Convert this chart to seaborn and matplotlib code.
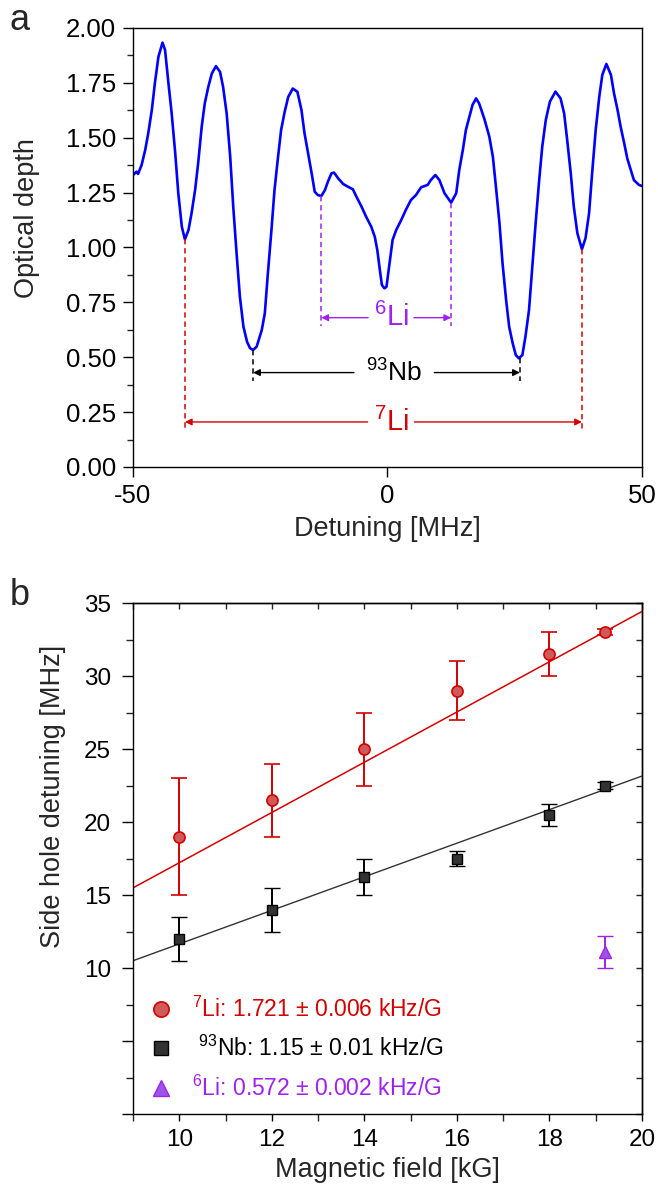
import numpy as np
import matplotlib
matplotlib.use("Agg")
import matplotlib.pyplot as plt
import seaborn as sns
from matplotlib.lines import Line2D
from matplotlib.ticker import MultipleLocator, NullFormatter

# ---------------- data: panel a ----------------
detuning_mhz = [-50.0, -49.3, -49.0, -48.3, -47.6, -47.0, -46.3, -45.7, -45.0, -44.2,
                -43.7, -43.1, -42.4, -41.7, -41.1, -40.4, -39.8, -39.1, -38.5, -37.8,
                -37.2, -36.5, -35.9, -35.2, -34.5, -33.7, -32.9, -32.3, -31.6, -30.9,
                -30.3, -29.6, -29.0, -28.3, -27.6, -27.0, -26.4, -25.7, -24.7, -24.1,
                -23.5, -22.8, -22.2, -21.5, -20.9, -20.2, -19.5, -18.6, -17.7, -16.9,
                -16.3, -15.6, -14.9, -14.3, -13.7, -13.0, -12.3, -11.7, -11.0, -10.5,
                -9.7, -8.7, -7.8, -6.8, -6.1, -5.1, -4.2, -3.2, -2.5, -2.0,
                -1.5, -1.1, -0.6, -0.2, 0.4, 1.0, 1.7, 2.7, 3.6, 4.6,
                5.6, 6.6, 7.9, 8.5, 9.4, 10.2, 11.2, 12.5, 13.5, 14.1,
                14.8, 15.4, 16.1, 16.7, 17.4, 18.0, 19.0, 20.0, 20.7, 21.3,
                22.0, 22.6, 23.3, 23.9, 24.6, 25.2, 25.8, 26.5, 27.1, 27.8,
                28.4, 29.1, 29.8, 30.4, 31.1, 31.9, 33.0, 34.0, 34.7, 35.3,
                36.0, 36.6, 37.3, 38.2, 38.9, 39.6, 40.2, 40.9, 41.6, 42.2,
                43.0, 43.9, 44.5, 45.2, 45.8, 46.5, 47.1, 47.8, 48.4, 49.4, 50.0]
optical_depth = [1.330, 1.345, 1.335, 1.376, 1.444, 1.520, 1.626, 1.748, 1.869, 1.933,
                 1.900, 1.763, 1.611, 1.429, 1.247, 1.094, 1.037, 1.079, 1.155, 1.261,
                 1.383, 1.550, 1.656, 1.732, 1.793, 1.826, 1.800, 1.732, 1.611, 1.413,
                 1.185, 0.958, 0.776, 0.639, 0.571, 0.541, 0.533, 0.548, 0.624, 0.700,
                 0.882, 1.079, 1.261, 1.413, 1.535, 1.618, 1.686, 1.724, 1.709, 1.626,
                 1.520, 1.429, 1.338, 1.254, 1.239, 1.234, 1.261, 1.300, 1.338, 1.341,
                 1.315, 1.289, 1.277, 1.265, 1.231, 1.186, 1.140, 1.095, 1.049, 0.988,
                 0.897, 0.829, 0.814, 0.821, 0.928, 1.034, 1.079, 1.125, 1.171, 1.216,
                 1.239, 1.274, 1.285, 1.307, 1.330, 1.307, 1.247, 1.204, 1.247, 1.353,
                 1.444, 1.535, 1.596, 1.649, 1.679, 1.656, 1.588, 1.505, 1.413, 1.277,
                 1.110, 0.928, 0.761, 0.639, 0.563, 0.510, 0.495, 0.510, 0.594, 0.715,
                 0.897, 1.110, 1.307, 1.459, 1.581, 1.664, 1.710, 1.679, 1.611, 1.490,
                 1.338, 1.186, 1.065, 0.992, 1.042, 1.156, 1.338, 1.535, 1.686, 1.786,
                 1.836, 1.786, 1.702, 1.626, 1.550, 1.475, 1.406, 1.353, 1.307, 1.285, 1.280]

hole_labels = [r"$^{7}$Li", r"$^{93}$Nb", r"$^{6}$Li"]
hole_left = [-39.8, -26.4, -13.0]
hole_right = [38.2, 26.0, 12.5]
hole_left_od = [1.037, 0.533, 1.234]
hole_right_od = [0.992, 0.495, 1.204]
dash_bottom = [0.17, 0.39, 0.64]
arrow_level = [0.205, 0.43, 0.68]
label_center = [0.7, 1.3, 0.7]

# ---------------- data: panel b ----------------
field_kG = [10, 12, 14, 16, 18, 19.2]
li7_mhz = [19.0, 21.5, 25.0, 29.0, 31.5, 33.0]
li7_err = [4.0, 2.5, 2.5, 2.0, 1.5, 0.2]
nb_mhz = [12.0, 14.0, 16.25, 17.5, 20.5, 22.5]
nb_err = [1.5, 1.5, 1.25, 0.5, 0.75, 0.25]
li6_field = [19.2]
li6_mhz = [11.1]
li6_err = [1.1]
fit_field = [9, 20]
li7_slope, li7_icpt = 1.721, 0.0
nb_slope, nb_icpt = 1.15, 0.15
legend_labels = [r"$^{7}$Li: 1.721 ± 0.006 kHz/G",
                 r" $^{93}$Nb: 1.15 ± 0.01 kHz/G",
                 r"$^{6}$Li: 0.572 ± 0.002 kHz/G"]

# ---------------- style ----------------
sns.set_theme(style="ticks")
plt.rcParams["font.family"] = ["Liberation Sans", "DejaVu Sans"]
plt.rcParams["mathtext.default"] = "regular"
plt.rcParams["axes.linewidth"] = 1.0
plt.rcParams["axes.edgecolor"] = "black"

BLUE = "#0000ff"
RED = "#d40000"
PURPLE = "#a020f0"
BLACK = "#000000"
hole_colors = [RED, BLACK, PURPLE]
label_sizes = [21, 19, 21]
label_halfgap = [4.6, 7.9, 4.5]

fig = plt.figure(figsize=(6.58, 11.84), dpi=100)
ax1 = fig.add_axes([0.2021, 0.6056, 0.7736, 0.3708])
ax2 = fig.add_axes([0.2021, 0.0591, 0.7736, 0.4316])

# ---------------- panel a ----------------
sns.lineplot(x=detuning_mhz, y=optical_depth, ax=ax1, color=BLUE, lw=1.9, sort=False)
for lab, xl, xr, yl, yr, yb, ya, xc, col, fs, hg in zip(
        hole_labels, hole_left, hole_right, hole_left_od, hole_right_od,
        dash_bottom, arrow_level, label_center, hole_colors, label_sizes, label_halfgap):
    ax1.plot([xl, xl], [yl, yb], ls=(0, (3.5, 2.5)), color=col, lw=1.1)
    ax1.plot([xr, xr], [yr, yb], ls=(0, (3.5, 2.5)), color=col, lw=1.1)
    for xend, xstart in ((xl, xc - hg), (xr, xc + hg)):
        ax1.annotate("", xy=(xend, ya), xytext=(xstart, ya),
                     arrowprops=dict(arrowstyle="-|>", color=col, lw=1.0,
                                     mutation_scale=10, shrinkA=0, shrinkB=0))
    ax1.text(xc, ya, lab, color=col, fontsize=fs, ha="center", va="center")

ax1.set_xlim(-50, 50)
ax1.set_ylim(0, 2.0)
ax1.set_xticks([-50, 0, 50])
ax1.set_xticklabels(["-50", "0", "50"])
ax1.yaxis.set_major_locator(MultipleLocator(0.25))
ax1.yaxis.set_minor_locator(MultipleLocator(0.125))
ax1.set_yticklabels([f"{v:.2f}" for v in ax1.get_yticks()])
ax1.tick_params(axis="both", which="major", direction="out", length=7, width=1.0,
                labelsize=18.5, pad=5, colors="black")
ax1.tick_params(axis="y", which="minor", direction="out", length=4, width=1.0)
ax1.set_xlabel("Detuning [MHz]", fontsize=19.5, labelpad=6)
ax1.set_ylabel("Optical depth", fontsize=19.5)
ax1.yaxis.set_label_coords(-0.183, 0.567)
for s in ax1.spines.values():
    s.set_visible(True)
    s.set_color("black")

# ---------------- panel b ----------------
fit_x = np.array(fit_field, dtype=float)
sns.lineplot(x=fit_x, y=li7_slope * fit_x + li7_icpt, ax=ax2, color=RED, lw=1.1)
sns.lineplot(x=fit_x, y=nb_slope * fit_x + nb_icpt, ax=ax2, color="#333333", lw=1.0)

ax2.errorbar(field_kG, li7_mhz, yerr=li7_err, fmt="o", ms=8, mfc="#d05a5a", mec=RED,
             mew=1.2, ecolor=RED, elinewidth=1.4, capsize=5.5, capthick=1.4, zorder=3)
ax2.errorbar(field_kG, nb_mhz, yerr=nb_err, fmt="s", ms=7, mfc="#333333", mec=BLACK,
             mew=1.0, ecolor=BLACK, elinewidth=1.4, capsize=5.5, capthick=1.4, zorder=3)
ax2.errorbar(li6_field, li6_mhz, yerr=li6_err, fmt="^", ms=8.5, mfc="#9a55e6", mec=PURPLE,
             mew=1.0, ecolor=PURPLE, elinewidth=1.4, capsize=5.5, capthick=1.4, zorder=3)

ax2.set_xlim(9, 20)
ax2.set_ylim(0, 35)
ax2.xaxis.set_major_locator(MultipleLocator(2))
ax2.xaxis.set_minor_locator(MultipleLocator(1))
yt = np.arange(0, 35.1, 5)
ax2.set_yticks(yt)
ax2.set_yticklabels([f"{int(v)}" if v >= 10 else "" for v in yt])
ax2.yaxis.set_minor_locator(MultipleLocator(2.5))
ax2.tick_params(axis="both", which="major", direction="out", width=1.0, labelsize=17.5, colors="black")
ax2.tick_params(axis="y", which="major", length=8, pad=8)
ax2.tick_params(axis="y", which="minor", direction="out", length=5, width=1.0)
ax2.tick_params(axis="x", which="major", length=5, pad=6)
ax2.tick_params(axis="x", which="minor", direction="out", length=5, width=1.0)
ax2.set_xlabel("Magnetic field [kG]", fontsize=19.5, labelpad=4)
ax2.set_ylabel("Side hole detuning [MHz]", fontsize=19.5)
ax2.yaxis.set_label_coords(-0.132, 0.622)
for s in ax2.spines.values():
    s.set_visible(True)
    s.set_color("black")

sec_r = ax2.secondary_yaxis("right")
sec_r.yaxis.set_major_locator(MultipleLocator(2.5))
sec_r.yaxis.set_major_formatter(NullFormatter())
sec_r.tick_params(direction="in", length=4, width=1.0)
sec_t = ax2.secondary_xaxis("top")
sec_t.xaxis.set_major_locator(MultipleLocator(1))
sec_t.xaxis.set_major_formatter(NullFormatter())
sec_t.tick_params(direction="in", length=4, width=1.0)

handles = [
    Line2D([], [], ls="none", marker="o", ms=11, mfc="#d05a5a", mec=RED, mew=1.2),
    Line2D([], [], ls="none", marker="s", ms=9.5, mfc="#333333", mec=BLACK, mew=1.0),
    Line2D([], [], ls="none", marker="^", ms=11, mfc="#9a55e6", mec=PURPLE, mew=1.0),
]
ax2.legend(handles, legend_labels, loc="lower left", bbox_to_anchor=(0.002, -0.005),
           frameon=False, fontsize=16.5, labelcolor=[RED, BLACK, PURPLE],
           handlelength=1.0, handletextpad=0.85, labelspacing=0.62, borderaxespad=0.3)

fig.text(0.015, 0.9747, "a", fontsize=26, ha="left", va="baseline")
fig.text(0.015, 0.489, "b", fontsize=26, ha="left", va="baseline")

fig.savefig("out.png", dpi=100)
